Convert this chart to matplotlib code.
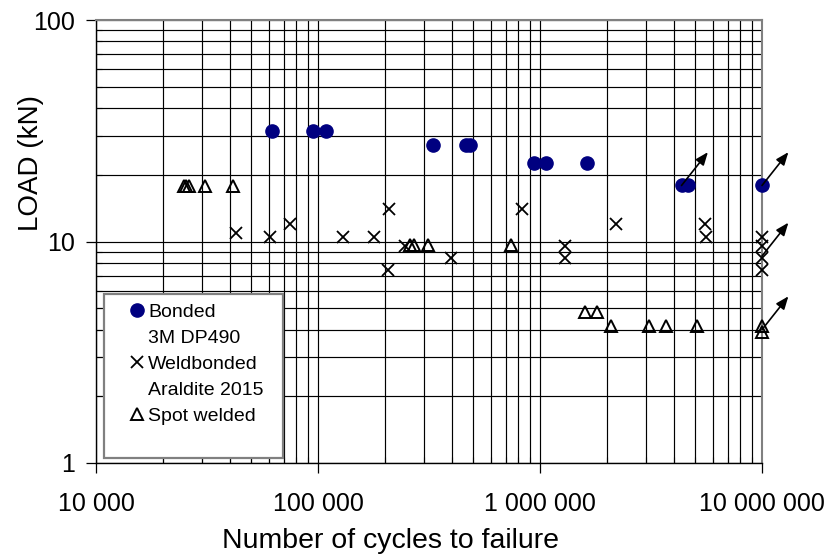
import matplotlib
matplotlib.use("Agg")
import matplotlib.pyplot as plt
from matplotlib.ticker import FixedLocator, FuncFormatter, LogLocator, NullFormatter
from matplotlib.lines import Line2D
from matplotlib.patches import Rectangle

plt.rcParams['font.family'] = ['Liberation Sans', 'DejaVu Sans']

# Fatigue test results: cycles to failure vs. applied load (kN)
bonded_cycles = [62000, 95000, 109000, 330000, 465000, 486000,
                 938000, 1063000, 1630000, 4340000, 4650000, 10000000]
bonded_load = [31.6, 31.6, 31.6, 27.3, 27.3, 27.3,
               22.7, 22.7, 22.7, 17.9, 17.9, 17.9]

weldbonded_cycles = [42800, 60900, 74500, 129700, 179500, 209000, 206000,
                     247600, 399000, 832000, 1300000, 1300000, 2190000,
                     5510000, 5570000, 10000000, 10000000, 10000000, 10000000]
weldbonded_load = [10.9, 10.47, 12.0, 10.47, 10.47, 14.05, 7.47,
                   9.59, 8.44, 14.05, 9.59, 8.44, 12.0,
                   12.0, 10.47, 10.47, 9.59, 8.44, 7.47]

spot_cycles = [24800, 25500, 26300, 31100, 41600, 260800, 271900, 312000,
               737000, 1600000, 1810000, 2090000, 3110000, 3680000,
               5110000, 10000000, 10000000]
spot_load = [17.8, 17.8, 17.8, 17.8, 17.8, 9.6, 9.6, 9.6,
             9.6, 4.8, 4.8, 4.15, 4.15, 4.15,
             4.15, 4.15, 3.9]

# Run-outs (tests stopped without failure) marked with arrows
runout_cycles = [4340000, 10000000, 10000000, 10000000]
runout_load = [17.9, 17.9, 8.6, 4.0]

x_ticks = [1e4, 1e5, 1e6, 1e7]
y_ticks = [1, 10, 100]

legend_labels = ["Bonded", "3M DP490", "Weldbonded", "Araldite 2015", "Spot welded"]

NAVY = "#000080"

fig = plt.figure(figsize=(8.3, 5.56), dpi=100)
ax = fig.add_axes([96 / 830, 93 / 556, 666 / 830, 443 / 556])
ax.set_xscale("log")
ax.set_yscale("log")
ax.set_xlim(1e4, 1e7)
ax.set_ylim(1, 100)

# grid on every decade and sub-decade
ax.xaxis.set_major_locator(FixedLocator(x_ticks))
ax.yaxis.set_major_locator(FixedLocator(y_ticks))
ax.xaxis.set_minor_locator(LogLocator(base=10, subs=range(2, 10)))
ax.yaxis.set_minor_locator(LogLocator(base=10, subs=range(2, 10)))
ax.xaxis.set_minor_formatter(NullFormatter())
ax.yaxis.set_minor_formatter(NullFormatter())
ax.xaxis.set_major_formatter(FuncFormatter(lambda v, p: f"{int(round(v)):,}".replace(",", " ")))
ax.yaxis.set_major_formatter(FuncFormatter(lambda v, p: f"{int(round(v))}"))
ax.grid(True, which="both", color="black", linewidth=0.85)
ax.set_axisbelow(True)

ax.tick_params(which="major", direction="out", length=7, width=0.9, labelsize=18, color="black")
ax.tick_params(axis="x", which="major", pad=14)
ax.tick_params(axis="y", which="major", pad=8)
ax.tick_params(which="minor", direction="in", length=4, width=0.8)

for side in ("left", "bottom"):
    ax.spines[side].set_color("black")
    ax.spines[side].set_linewidth(1.0)
for side in ("top", "right"):
    ax.spines[side].set_color("#808080")
    ax.spines[side].set_linewidth(1.5)

ms = 9.5
ax.plot(bonded_cycles, bonded_load, linestyle="none", marker="o", markersize=ms,
        markerfacecolor=NAVY, markeredgecolor=NAVY, clip_on=False, zorder=4)
ax.plot(weldbonded_cycles, weldbonded_load, linestyle="none", marker="x", markersize=9,
        markeredgewidth=1.3, color="black", clip_on=False, zorder=4)
ax.plot(spot_cycles, spot_load, linestyle="none", marker="^", markersize=9,
        markerfacecolor="none", markeredgecolor="black", markeredgewidth=1.4,
        clip_on=False, zorder=4)

for n, load in zip(runout_cycles, runout_load):
    ax.annotate("", xy=(n, load), xycoords="data", xytext=(19, 24), textcoords="offset points",
                arrowprops=dict(arrowstyle="<|-,head_length=0.55,head_width=0.22",
                                mutation_scale=14, color="black", lw=1.2,
                                shrinkA=0, shrinkB=0),
                annotation_clip=False, zorder=5)

# legend box
ax.add_patch(Rectangle((0.012, 0.0113), 0.269, 0.370, transform=ax.transAxes,
                       facecolor="white", edgecolor="#808080", linewidth=1.6, zorder=3))
handles = [Line2D([], [], linestyle="none", marker="o", markersize=ms,
                  markerfacecolor=NAVY, markeredgecolor=NAVY),
           Line2D([], [], linestyle="none"),
           Line2D([], [], linestyle="none", marker="x", markersize=9,
                  markeredgewidth=1.3, color="black"),
           Line2D([], [], linestyle="none"),
           Line2D([], [], linestyle="none", marker="^", markersize=9,
                  markerfacecolor="none", markeredgecolor="black", markeredgewidth=1.4)]
leg = ax.legend(handles, legend_labels, loc="upper left", bbox_to_anchor=(0.0497, 0.361),
                frameon=False, fontsize=14, handlelength=0.8, handletextpad=0.17,
                labelspacing=0.43, borderpad=0, borderaxespad=0)
leg.set_zorder(6)

fig.text(390 / 830, 1 - 541 / 556, "Number of cycles to failure", fontsize=20.5,
         ha="center", va="center")
fig.text(31 / 830, 1 - 163 / 556, "LOAD (kN)", fontsize=20, rotation=90,
         ha="center", va="center")

fig.savefig("out.png", dpi=100)
